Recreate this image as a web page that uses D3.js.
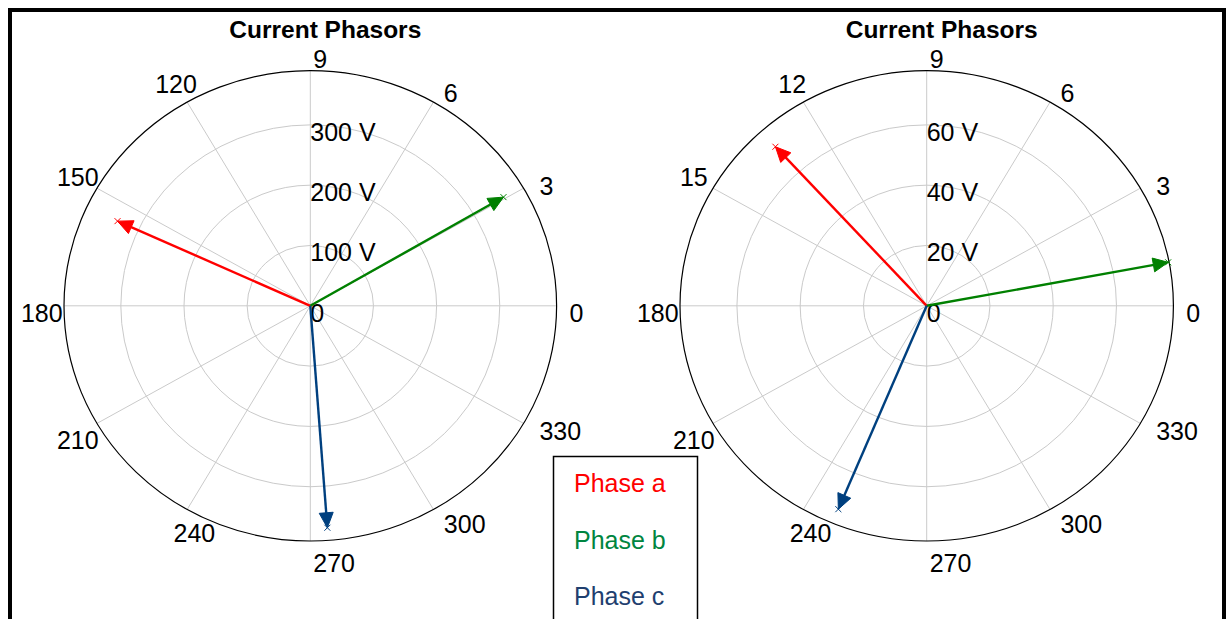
<!DOCTYPE html>
<html><head><meta charset="utf-8">
<script src="https://cdn.jsdelivr.net/npm/d3@7"></script>
<style>
body{margin:0;background:#fff;}
svg{display:block;}
text{font-family:"Liberation Sans",Arial,sans-serif;}
</style>
</head><body>
<svg id="chart" width="1226" height="619"></svg>
<script>
// ---------- data ----------
const phaseNames = ["Phase a", "Phase b", "Phase c"];
const phaseColors = ["#ff0000", "#008000", "#00407f"];
const legendColors = ["#ff0000", "#008540", "#1f3f6f"];
const angleTicks = [0, 30, 60, 90, 120, 150, 180, 210, 240, 270, 300, 330];
const leftAngleLabels = ["0", "3", "6", "9", "120", "150", "180", "210", "240", "270", "300", "330"];
const rightAngleLabels = ["0", "3", "6", "9", "12", "15", "180", "210", "240", "270", "300", "330"];
const leftRadialTicks = [0, 100, 200, 300];
const rightRadialTicks = [0, 20, 40, 60];
const leftRMax = 390;
const rightRMax = 78;
const leftMagnitudes = [336, 355, 369];
const leftAngles = [155.3, 30.5, 274.2];
const rightMagnitudes = [71.2, 77.7, 73.0];
const rightAngles = [132.2, 10.7, 247.5];
const titles = ["Current Phasors", "Current Phasors"];

// ---------- drawing ----------
const svg = d3.select("#chart");
svg.append("rect").attr("width", 1226).attr("height", 619).attr("fill", "#fff");

function drawPanel(cfg) {
  const g = svg.append("g");
  const sx = d3.scaleLinear().domain([0, cfg.rmax]).range([0, cfg.rx]);
  const sy = d3.scaleLinear().domain([0, cfg.rmax]).range([0, cfg.ry]);
  const rad = a => a * Math.PI / 180;
  const px = (v, a) => cfg.cx + sx(v) * Math.cos(rad(a));
  const py = (v, a) => cfg.cy - sy(v) * Math.sin(rad(a));

  // spokes
  g.selectAll("line.spoke").data(angleTicks).join("line")
    .attr("x1", cfg.cx).attr("y1", cfg.cy)
    .attr("x2", d => px(cfg.rmax, d)).attr("y2", d => py(cfg.rmax, d))
    .attr("stroke", "#cacaca").attr("stroke-width", 1);
  // rings
  g.selectAll("ellipse.ring").data(cfg.rticks.filter(v => v > 0)).join("ellipse")
    .attr("cx", cfg.cx).attr("cy", cfg.cy)
    .attr("rx", d => sx(d)).attr("ry", d => sy(d))
    .attr("fill", "none").attr("stroke", "#cacaca").attr("stroke-width", 1);
  // outer circle
  g.append("ellipse").attr("cx", cfg.cx).attr("cy", cfg.cy)
    .attr("rx", sx(cfg.rmax)).attr("ry", sy(cfg.rmax))
    .attr("fill", "none").attr("stroke", "#000").attr("stroke-width", 1.2);

  // angle labels
  g.selectAll("text.ang").data(angleTicks).join("text")
    .attr("font-size", 25).attr("fill", "#000")
    .attr("text-anchor", d => Math.cos(rad(d)) > -0.01 ? "start" : "middle")
    .attr("x", d => {
      const c = Math.cos(rad(d)), s = Math.sin(rad(d));
      if (c > -0.01) return cfg.cx + 1.06 * cfg.rx * c + (c > 0.99 ? -2 : 3);
      return cfg.cx + 1.09 * cfg.rx * c + 50 * Math.max(0, -s - 0.5);
    })
    .attr("y", d => {
      const s = Math.sin(rad(d)), c = Math.cos(rad(d));
      return cfg.cy - 1.08 * cfg.ry * s + 16 - 20 * Math.max(0, -s * c) - (s < -0.99 ? 4 : 0);
    })
    .text((d, i) => cfg.alabels[i]);

  // radial labels
  g.selectAll("text.rad").data(cfg.rticks).join("text")
    .attr("font-size", 25).attr("fill", "#000")
    .attr("x", cfg.cx)
    .attr("y", d => cfg.cy - sy(d) + 16)
    .text(d => d === 0 ? "0" : d + " V");

  // title
  g.append("text").attr("x", cfg.cx + 15).attr("y", 38)
    .attr("text-anchor", "middle").attr("font-size", 24.5).attr("font-weight", "bold")
    .text(cfg.title);

  // phasors
  cfg.mags.forEach((m, i) => {
    const a = cfg.angs[i];
    const tx = px(m, a), ty = py(m, a);
    let ux = tx - cfg.cx, uy = ty - cfg.cy;
    const L = Math.hypot(ux, uy); ux /= L; uy /= L;
    const hl = 15, hw = 7;
    const bx = tx - ux * hl, by = ty - uy * hl;
    const col = phaseColors[i];
    g.append("line").attr("x1", cfg.cx).attr("y1", cfg.cy).attr("x2", bx + ux * 2).attr("y2", by + uy * 2)
      .attr("stroke", col).attr("stroke-width", 2.4);
    g.append("path")
      .attr("d", `M${tx},${ty}L${bx - uy * hw},${by + ux * hw}L${bx + uy * hw},${by - ux * hw}Z`)
      .attr("fill", col).attr("stroke", col).attr("stroke-width", 1);
    const s = 3;
    g.append("path")
      .attr("d", `M${tx - s},${ty - s}L${tx + s},${ty + s}M${tx - s},${ty + s}L${tx + s},${ty - s}`)
      .attr("stroke", col).attr("stroke-width", 1);
  });
}

drawPanel({cx: 310.3, cy: 305.8, rx: 246.3, ry: 235.2, rmax: leftRMax, rticks: leftRadialTicks,
  alabels: leftAngleLabels, mags: leftMagnitudes, angs: leftAngles, title: titles[0]});
drawPanel({cx: 926.7, cy: 305.8, rx: 246.7, ry: 235.2, rmax: rightRMax, rticks: rightRadialTicks,
  alabels: rightAngleLabels, mags: rightMagnitudes, angs: rightAngles, title: titles[1]});

// legend
const lg = svg.append("g");
lg.append("rect").attr("x", 553.5).attr("y", 456.5).attr("width", 144).attr("height", 200)
  .attr("fill", "#fff").attr("stroke", "#000").attr("stroke-width", 1.5);
lg.selectAll("text").data(phaseNames).join("text")
  .attr("x", 574).attr("y", (d, i) => 492 + i * 56.7)
  .attr("font-size", 25).attr("fill", (d, i) => legendColors[i])
  .text(d => d);

// figure frame
svg.append("rect").attr("x", 10).attr("y", 10).attr("width", 1214).attr("height", 700)
  .attr("fill", "none").attr("stroke", "#000").attr("stroke-width", 4);
</script>
</body></html>
